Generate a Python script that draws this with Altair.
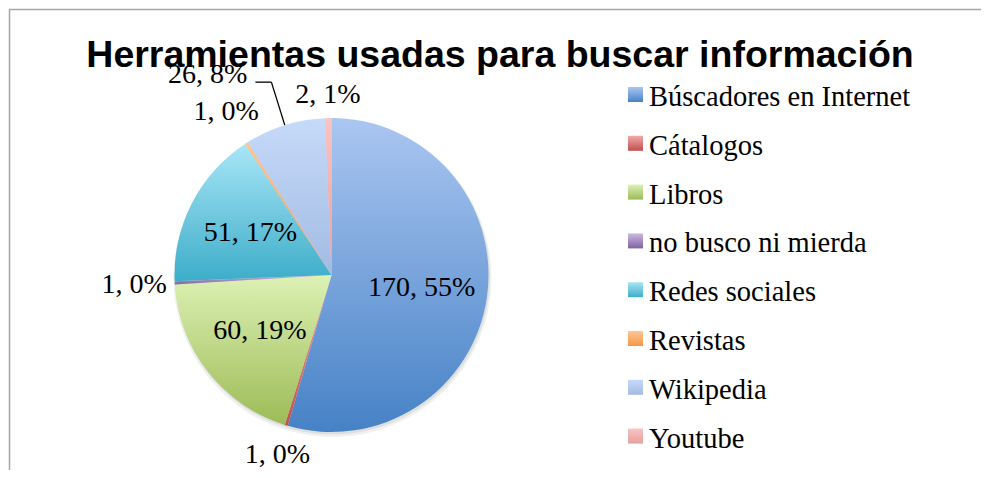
import math
import altair as alt
import pandas as pd

# ---- data ----
categories = [
    "Búscadores en Internet",
    "Cátalogos",
    "Libros",
    "no busco ni mierda",
    "Redes sociales",
    "Revistas",
    "Wikipedia",
    "Youtube",
]
values = [170, 1, 60, 1, 51, 1, 26, 2]
percents = [55, 0, 19, 0, 17, 0, 8, 1]
title_text = "Herramientas usadas para buscar información"

# ---- styling (top colour, bottom colour of each slice gradient) ----
slice_colors = [
    ("#abc6f1", "#4682c6"),
    ("#f2aaa8", "#c0504d"),
    ("#dcf1b4", "#9dbb57"),
    ("#cbb9e2", "#7f62a1"),
    ("#a8e6f7", "#3dadc9"),
    ("#fdc596", "#f79646"),
    ("#c6daf9", "#a2bbe3"),
    ("#f9c3c2", "#e5a09f"),
]

W, H = 973, 462
CX, CY, R = 323.5, 267, 157
SERIF = "Liberation Serif"

df = pd.DataFrame({
    "cat": categories,
    "value": values,
    "pct": percents,
    "order": list(range(len(categories))),
})

base = (
    alt.Chart(df)
    .transform_joinaggregate(total="sum(value)")
    .transform_window(cum="sum(value)", sort=[alt.SortField("order")], frame=[None, 0])
    .transform_calculate(
        a0="(datum.cum - datum.value) / datum.total * 2 * PI",
        a1="datum.cum / datum.total * 2 * PI",
        ang="(datum.cum - datum.value / 2) / datum.total * 2 * PI",
        frac="datum.value / datum.total",
        label="datum.value + ', ' + datum.pct + '%'",
    )
    .transform_calculate(
        lr=f"datum.frac >= 0.1 ? {0.58 * R} : {R} + 8 + abs(sin(datum.ang)) * 32 + abs(cos(datum.ang)) * 14",
        leader="datum.frac >= 0.05 && datum.frac < 0.1",
    )
    .transform_calculate(
        lx=f"{CX} + datum.lr * sin(datum.ang)",
        ly=f"{CY} - datum.lr * cos(datum.ang)",
        px=f"{CX} + {R} * sin(datum.ang)",
        py=f"{CY} - {R} * cos(datum.ang)",
        ex=f"{CX} + {R + 45} * sin(datum.ang)",
        ey=f"{CY} - {R + 45} * cos(datum.ang)",
    )
    .transform_calculate(
        hx="datum.ex + (sin(datum.ang) < 0 ? -16 : 16)",
        tx="datum.ex + (sin(datum.ang) < 0 ? -24 : 24)",
        ty="datum.ey + 1",
        rowc="86.5 + datum.order * 48.8",
    )
    .transform_calculate(
        sq0="datum.rowc - 7.5",
        sq1="datum.rowc + 7.5",
        rowb="datum.rowc + 11.5",
    )
)

def grad(top, bottom):
    return alt.LinearGradient(
        gradient="linear",
        stops=[alt.GradientStop(color=top, offset=0), alt.GradientStop(color=bottom, offset=1)],
        x1=0, x2=0, y1=0, y2=1,
    )

layers = []

# frame lines
frame = alt.Chart(pd.DataFrame({"k": [0]}))
layers.append(frame.mark_rule(color="#a6a6a6", strokeWidth=1.5).encode(
    x=alt.value(1), x2=alt.value(W), y=alt.value(1.5), y2=alt.value(1.5)))
layers.append(frame.mark_rule(color="#a6a6a6", strokeWidth=1.5).encode(
    x=alt.value(1.5), x2=alt.value(1.5), y=alt.value(1), y2=alt.value(H)))

# soft shadow under the pie
layers.append(frame.mark_arc(color="#000000", opacity=0.06, outerRadius=R + 2).encode(
    x=alt.value(CX + 1), y=alt.value(CY + 3), theta=alt.value(0), theta2=alt.value(2 * math.pi)))
layers.append(frame.mark_arc(color="#000000", opacity=0.07, outerRadius=R + 0.5).encode(
    x=alt.value(CX + 1), y=alt.value(CY + 2), theta=alt.value(0), theta2=alt.value(2 * math.pi)))

# title (drawn under the labels, as in the reference)
layers.append(frame.mark_text(
    text=title_text, font="Liberation Sans", fontWeight="bold", fontSize=37.5,
    align="center", baseline="alphabetic", color="#000000").encode(
    x=alt.value(492), y=alt.value(59)))

for i, cat in enumerate(categories):
    top, bottom = slice_colors[i]
    sl = base.transform_filter(alt.datum.cat == cat)
    layers.append(sl.mark_arc(color=grad(top, bottom), outerRadius=R, stroke=None).encode(
        x=alt.value(CX), y=alt.value(CY),
        theta=alt.Theta("a0:Q", scale=None),
        theta2=alt.Theta2("a1:Q"),
    ))
    layers.append(sl.mark_rect(color=grad(top, bottom)).encode(
        x=alt.value(620), x2=alt.value(635),
        y=alt.Y("sq0:Q", scale=None, axis=None),
        y2=alt.Y2("sq1:Q"),
    ))

# legend text
layers.append(base.mark_text(font=SERIF, fontSize=28.5, align="left", baseline="alphabetic", color="#000000").encode(
    x=alt.value(641),
    y=alt.Y("rowb:Q", scale=None, axis=None),
    text="cat:N",
))

# data labels
plain = base.transform_filter("!datum.leader")
layers.append(plain.mark_text(font=SERIF, fontSize=28, align="center", baseline="middle", color="#000000").encode(
    x=alt.X("lx:Q", scale=None, axis=None),
    y=alt.Y("ly:Q", scale=None, axis=None),
    text="label:N",
))

lead = base.transform_filter("datum.leader")
layers.append(lead.mark_rule(color="#000000", strokeWidth=1.3).encode(
    x=alt.X("px:Q", scale=None, axis=None), y=alt.Y("py:Q", scale=None, axis=None),
    x2="ex:Q", y2="ey:Q"))
layers.append(lead.mark_rule(color="#000000", strokeWidth=1.3).encode(
    x=alt.X("ex:Q", scale=None, axis=None), y=alt.Y("ey:Q", scale=None, axis=None),
    x2="hx:Q", y2="ey:Q"))
layers.append(lead.mark_text(font=SERIF, fontSize=28, align="right", baseline="alphabetic", color="#000000").encode(
    x=alt.X("tx:Q", scale=None, axis=None),
    y=alt.Y("ty:Q", scale=None, axis=None),
    text="label:N",
))

chart = (
    alt.layer(*layers)
    .properties(width=W, height=H, padding=0, autosize=alt.AutoSizeParams(type="none"))
    .configure_view(stroke=None)
)

chart.save("out.html", embed_options={"renderer": "svg", "actions": False})
